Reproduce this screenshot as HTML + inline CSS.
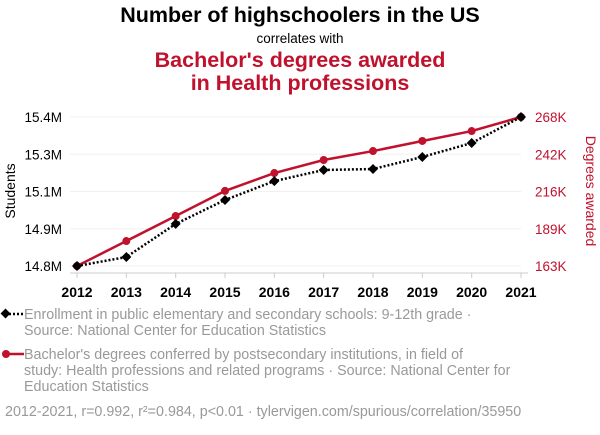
<!DOCTYPE html>
<html><head><meta charset="utf-8"><style>
body{margin:0;background:#fff;font-family:"Liberation Sans",sans-serif;}
svg text{font-family:"Liberation Sans",sans-serif;}
</style></head><body>
<svg id="c" width="600" height="430" xmlns="http://www.w3.org/2000/svg">
<text x="300" y="22" text-anchor="middle" font-size="21.5" font-weight="bold" fill="#000">Number of highschoolers in the US</text>
<text x="300" y="43" text-anchor="middle" font-size="13.5" fill="#000">correlates with</text>
<text x="300" y="67" text-anchor="middle" font-size="21.5" font-weight="bold" fill="#c0112d">Bachelor's degrees awarded</text>
<text x="300" y="90" text-anchor="middle" font-size="21.5" font-weight="bold" fill="#c0112d">in Health professions</text>
<g id="grid"></g><g id="axes"></g><g id="marks"></g>
<text transform="translate(15,191) rotate(-90)" text-anchor="middle" font-size="14" fill="#000">Students</text>
<text transform="translate(586,191) rotate(90)" text-anchor="middle" font-size="14" fill="#c0112d">Degrees awarded</text>
<g>
<line x1="5" y1="314" x2="24" y2="314" stroke="#000" stroke-width="2.5" stroke-dasharray="2,2"/>
<rect x="2" y="310" width="7" height="7" transform="rotate(45 5.5 313.5)" fill="#000"/>
<text x="24" y="319" font-size="14.3" fill="#999">Enrollment in public elementary and secondary schools: 9-12th grade ·</text>
<text x="24" y="335" font-size="14.3" fill="#999">Source: National Center for Education Statistics</text>
</g>
<g>
<line x1="5" y1="354" x2="24" y2="354" stroke="#c0112d" stroke-width="2.5"/>
<circle cx="6" cy="354" r="4" fill="#c0112d"/>
<text x="24" y="359" font-size="14.3" fill="#999">Bachelor's degrees conferred by postsecondary institutions, in field of</text>
<text x="24" y="375" font-size="14.3" fill="#999">study: Health professions and related programs · Source: National Center for</text>
<text x="24" y="391" font-size="14.3" fill="#999">Education Statistics</text>
</g>
<text x="5" y="416" font-size="14.3" fill="#999">2012-2021, r=0.992, r²=0.984, p&lt;0.01 · tylervigen.com/spurious/correlation/35950</text>
</svg>
<script>
const years=[2012,2013,2014,2015,2016,2017,2018,2019,2020,2021];
const students=[14.77,14.808,14.948,15.049,15.129,15.176,15.180,15.231,15.290,15.40];
const degrees=[163,180.6,198.2,215.9,228.5,237.7,244,251.1,258.1,268];
const leftTickLabels=["14.8M","14.9M","15.1M","15.3M","15.4M"];
const rightTickLabels=["163K","189K","216K","242K","268K"];
const L=[14.77,15.40],R=[163,268];
const ns="http://www.w3.org/2000/svg";
const X=y=>77+(y-2012)/(2021-2012)*444;
const YL=v=>266-(v-L[0])/(L[1]-L[0])*149;
const YR=v=>266-(v-R[0])/(R[1]-R[0])*149;
function mk(t,a,p){const e=document.createElementNS(ns,t);for(const k in a)e.setAttribute(k,a[k]);document.getElementById(p).appendChild(e);return e;}
leftTickLabels.forEach((lab,i)=>{const y=266-i*149/4;
 const g=mk('line',{x1:70,x2:521,y1:y,y2:y,stroke:'#f0f0f0','stroke-width':1},'grid');
 
 
 const t=mk('text',{x:62,y:y+5,'text-anchor':'end','font-size':13.5,fill:'#000'},'axes');t.textContent=lab;
 
 
 const r=mk('text',{x:535,y:y+5,'font-size':13.5,fill:'#c0112d'},'axes');r.textContent=rightTickLabels[i];
 
 
});
years.forEach(yr=>{const t=mk('text',{x:X(yr),y:297,'text-anchor':'middle','font-size':14,'font-weight':'bold',fill:'#000'},'axes');t.textContent=yr;
 
 
 const tk=mk('line',{x1:X(yr),x2:X(yr),y1:273,y2:278,stroke:'#ccc'},'axes');
 
 });
const ax=mk('line',{x1:70,x2:528,y1:273,y2:273,stroke:'#ccc'},'axes');


const rp=mk('polyline',{points:years.map((y,i)=>X(y)+','+YR(degrees[i])).join(' '),fill:'none',stroke:'#c0112d','stroke-width':2.5},'marks');


const bp=mk('polyline',{points:years.map((y,i)=>X(y)+','+YL(students[i])).join(' '),fill:'none',stroke:'#000','stroke-width':2.5,'stroke-dasharray':'2,2'},'marks');


years.forEach((y,i)=>{const c=mk('circle',{cx:X(y),cy:YR(degrees[i]),r:4,fill:'#c0112d'},'marks');
 
 
 const x=X(y),yy=YL(students[i]);
 const d=mk('polygon',{points:`${x},${yy-5} ${x+5},${yy} ${x},${yy+5} ${x-5},${yy}`,fill:'#000'},'marks');
 
 });
</script>
</body></html>
